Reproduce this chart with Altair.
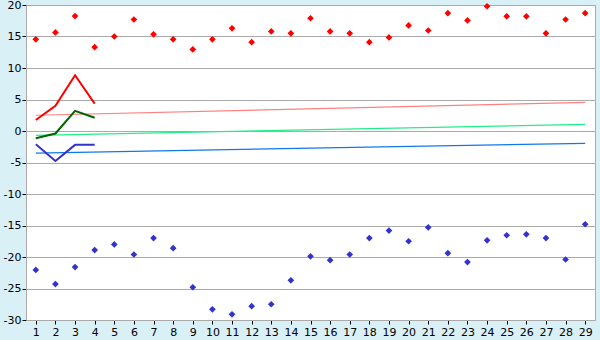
import altair as alt
import pandas as pd

days = list(range(1, 30))
record_max = [14.55, 15.65, 18.25, 13.3, 15.0, 17.7, 15.35, 14.55, 12.95, 14.55,
              16.3, 14.1, 15.8, 15.5, 17.9, 15.8, 15.5, 14.1, 14.85, 16.75,
              15.95, 18.7, 17.55, 19.8, 18.2, 18.2, 15.5, 17.7, 18.7]
record_min = [-22.05, -24.3, -21.6, -18.9, -18.0, -19.6, -17.0, -18.6, -24.8, -28.3,
              -29.1, -27.8, -27.5, -23.7, -19.9, -20.5, -19.6, -17.0, -15.8, -17.5,
              -15.3, -19.4, -20.8, -17.35, -16.55, -16.4, -17.0, -20.4, -14.8]

obs_days = [1, 2, 3, 4]
obs_max = [1.75, 4.0, 8.85, 4.35]
obs_mean = [-1.15, -0.4, 3.2, 2.1]
obs_min = [-2.1, -4.75, -2.2, -2.2]

norm_days = [1, 29]
norm_max = [2.5, 4.55]
norm_mean = [-0.68, 1.06]
norm_min = [-3.5, -1.95]

pts = pd.DataFrame({
    "day": days * 2,
    "value": record_max + record_min,
    "series": ["recmax"] * len(days) + ["recmin"] * len(days),
})
obs = pd.DataFrame({
    "day": obs_days * 3,
    "value": obs_max + obs_mean + obs_min,
    "series": ["max"] * 4 + ["mean"] * 4 + ["min"] * 4,
})
norm = pd.DataFrame({
    "day": norm_days * 3,
    "value": norm_max + norm_mean + norm_min,
    "series": ["nmax"] * 2 + ["nmean"] * 2 + ["nmin"] * 2,
})

x = alt.X("day:Q", scale=alt.Scale(domain=[0.5, 29.5], nice=False, zero=False),
          axis=alt.Axis(values=days, grid=False, title=None, labelFontSize=11,
                        labelFont="DejaVu Sans", labelColor="#000", tickColor="#000",
                        tickSize=4, domainColor="#aaaaaa", labelPadding=2, format="d"))
y = alt.Y("value:Q", scale=alt.Scale(domain=[-30, 20], nice=False),
          axis=alt.Axis(values=list(range(-30, 21, 5)), grid=True, gridColor="#aaaaaa",
                        title=None, labelFontSize=11, labelFont="DejaVu Sans",
                        labelColor="#000", tickColor="#000", tickSize=4,
                        domainColor="#aaaaaa", labelPadding=1,
                        labelExpr="datum.value < 0 ? '-' + abs(datum.value) : '' + datum.value"))

color_norm = alt.Color("series:N", legend=None,
                       scale=alt.Scale(domain=["nmax", "nmean", "nmin", "max", "mean", "min", "recmax", "recmin"],
                                       range=["#ff8080", "#22ee88", "#1177ee", "#ff0000", "#006600", "#3333cc", "#ff0000", "#3333cc"]))

normal_lines = alt.Chart(norm).mark_line(strokeWidth=1.2).encode(
    x=x, y=y, color=color_norm, detail="series:N")
obs_lines = alt.Chart(obs).mark_line(strokeWidth=2).encode(
    x=x, y=y, color=color_norm, detail="series:N")
points = alt.Chart(pts).mark_point(shape="diamond", filled=True, size=45, opacity=1).encode(
    x=x, y=y, color=color_norm)

chart = alt.layer(normal_lines, obs_lines, points).properties(
    width=569, height=315,
    background="#daf0f7",
    autosize=alt.AutoSizeParams(type="none"),
    padding={"left": 26, "top": 5, "right": 5, "bottom": 20},
).configure_view(stroke="#aaaaaa", fill="white", strokeWidth=1)

chart.save("out.html", embed_options={"renderer": "svg", "actions": False})
